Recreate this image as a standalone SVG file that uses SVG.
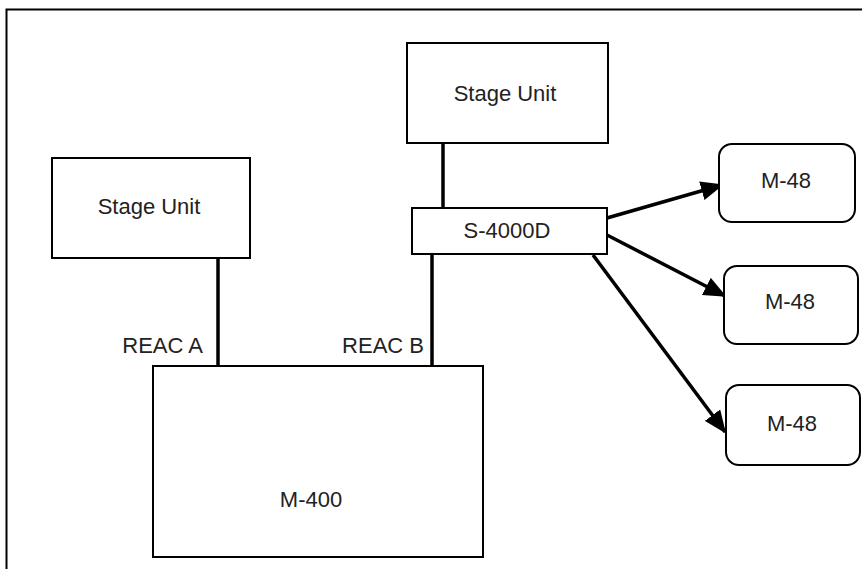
<svg xmlns="http://www.w3.org/2000/svg" width="862" height="569" viewBox="0 0 862 569">
<style>
.box{fill:#fff;stroke:#000;stroke-width:2}
.t{font-family:"Liberation Sans",Arial,sans-serif;font-size:22px;fill:#222;text-anchor:middle}
.c{stroke:#000;stroke-width:3.5;fill:none}
</style>
<defs>
<marker id="ah" markerWidth="6.5" markerHeight="5.5" refX="6" refY="2.75" orient="auto" markerUnits="strokeWidth">
<path d="M0,0 L6.5,2.75 L0,5.5 Z" fill="#000"/>
</marker>
</defs>
<rect x="0" y="0" width="862" height="569" fill="#fff"/>
<rect x="6.5" y="9.5" width="870" height="580" fill="none" stroke="#000" stroke-width="2"/>
<g id="connectors">
<line class="c" x1="218" y1="258" x2="218" y2="366"/>
<line class="c" x1="432" y1="254" x2="432" y2="366"/>
<line class="c" x1="443" y1="143" x2="443" y2="208"/>
<line class="c" x1="607" y1="218" x2="722" y2="185" marker-end="url(#ah)"/>
<line class="c" x1="607" y1="235" x2="725" y2="296" marker-end="url(#ah)"/>
<line class="c" x1="593" y1="255" x2="725" y2="432" marker-end="url(#ah)"/>
</g>
<g id="stage-unit-a">
<rect class="box" x="52" y="158" width="198" height="100"/>
<text class="t" x="149" y="214">Stage Unit</text>
</g>
<g id="stage-unit-b">
<rect class="box" x="407" y="43" width="201" height="100"/>
<text class="t" x="505" y="101">Stage Unit</text>
</g>
<g id="s4000d">
<rect class="box" x="412" y="208" width="195" height="46"/>
<text class="t" x="507" y="238">S-4000D</text>
</g>
<g id="m400">
<rect class="box" x="153" y="366" width="330" height="191"/>
<text class="t" x="311" y="507">M-400</text>
</g>
<g id="reac-a"><text class="t" x="203" y="353" style="text-anchor:end">REAC A</text></g>
<g id="reac-b"><text class="t" x="424" y="353" style="text-anchor:end">REAC B</text></g>
<g id="m48-1">
<rect class="box" x="719" y="144" width="136" height="78" rx="13"/>
<text class="t" x="786" y="188">M-48</text>
</g>
<g id="m48-2">
<rect class="box" x="724" y="266" width="134" height="78" rx="13"/>
<text class="t" x="790" y="309">M-48</text>
</g>
<g id="m48-3">
<rect class="box" x="726" y="385" width="134" height="80" rx="13"/>
<text class="t" x="792" y="431">M-48</text>
</g>
</svg>
